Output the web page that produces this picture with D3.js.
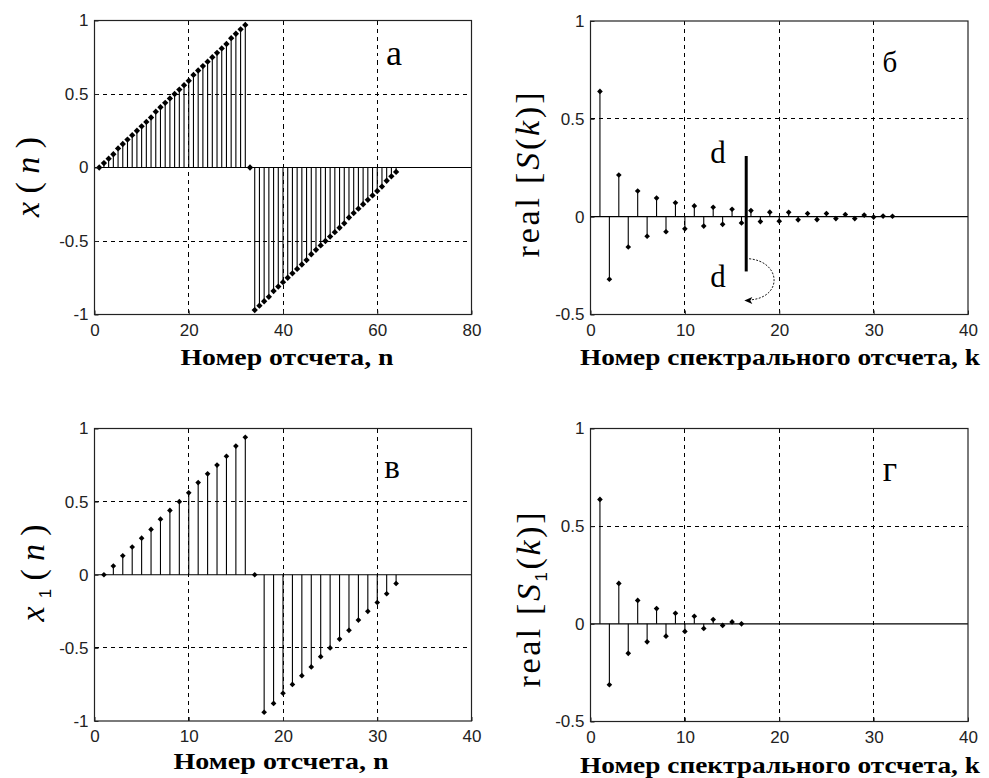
<!DOCTYPE html>
<html><head><meta charset="utf-8">
<script src="https://cdn.jsdelivr.net/npm/d3@7"></script>
<style>body{margin:0;background:#fff}svg{display:block}</style>
</head><body>
<script>
// ---------- data ----------
// (а) x(n), n = 1..64
const xA = [0,0.03,0.06,0.09,0.13,0.16,0.19,0.22,0.25,0.28,0.31,0.34,0.38,0.41,0.44,0.47,
            0.50,0.53,0.56,0.59,0.63,0.66,0.69,0.72,0.75,0.78,0.81,0.84,0.88,0.91,0.94,0.97,
            0,
            -0.97,-0.94,-0.91,-0.88,-0.84,-0.81,-0.78,-0.75,-0.72,-0.69,-0.66,-0.63,-0.59,-0.56,-0.53,
            -0.50,-0.47,-0.44,-0.41,-0.38,-0.34,-0.31,-0.28,-0.25,-0.22,-0.19,-0.16,-0.13,-0.09,-0.06,-0.03];
// (б) real[S(k)], k = 1..32
const sB = [0.64,-0.32,0.213,-0.155,0.131,-0.10,0.095,-0.077,0.071,-0.062,0.055,-0.048,0.048,-0.039,0.038,-0.032,
            0.031,-0.025,0.023,-0.023,0.022,-0.016,0.016,-0.015,0.016,-0.01,0.011,-0.01,0.008,-0.002,0.003,0.002];
// (в) x1(n), n = 1..32
const xC = [0,0.06,0.13,0.19,0.25,0.31,0.38,0.44,0.50,0.56,0.63,0.69,0.75,0.81,0.88,0.94,
            0,-0.94,-0.88,-0.81,-0.75,-0.69,-0.63,-0.56,-0.50,-0.44,-0.38,-0.31,-0.25,-0.19,-0.13,-0.06];
// (г) real[S1(k)], k = 1..16
const sD = [0.637,-0.312,0.207,-0.151,0.12,-0.092,0.078,-0.063,0.054,-0.039,0.039,-0.024,0.022,-0.008,0.01,0];

const xTicks80 = [0,20,40,60,80];
const xTicks40 = [0,10,20,30,40];
const yTicksX  = [-1,-0.5,0,0.5,1];
const yTicksS  = [-0.5,0,0.5,1];
const panelLetters = ["а","б","в","г"];
const xTitleTime = "Номер отсчета, n";
const xTitleSpec = "Номер спектрального отсчета, k";
// annotation in (б): boundary between halves of the spectrum
const boundaryK = 16.5, boundaryTop = 0.31, boundaryBottom = -0.28;

// ---------- drawing ----------
const W = 989, H = 778;
const svg = d3.select("body").append("svg").attr("width", W).attr("height", H);
svg.append("rect").attr("width", W).attr("height", H).attr("fill", "#fff");

const SERIF = "'Liberation Serif','Times New Roman',serif";
const SANS  = "'Liberation Sans',Arial,sans-serif";

function panel(cfg) {
  const g = svg.append("g");
  const x = d3.scaleLinear().domain(cfg.xDomain).range([cfg.left, cfg.right]);
  const y = d3.scaleLinear().domain(cfg.yDomain).range([cfg.bottom, cfg.top]);

  // grid
  g.selectAll(".vg").data(cfg.xTicks.filter(t => t > cfg.xDomain[0] && t < cfg.xDomain[1]))
    .join("line").attr("x1", d => x(d)).attr("x2", d => x(d))
    .attr("y1", cfg.top).attr("y2", cfg.bottom)
    .attr("stroke", "#000").attr("stroke-width", 1).attr("stroke-dasharray", "4,4")
    .attr("shape-rendering", "crispEdges");
  g.selectAll(".hg").data(cfg.yTicks.filter(t => t > cfg.yDomain[0] && t < cfg.yDomain[1] && t !== 0))
    .join("line").attr("y1", d => y(d)).attr("y2", d => y(d))
    .attr("x1", cfg.left).attr("x2", cfg.right)
    .attr("stroke", "#000").attr("stroke-width", 1).attr("stroke-dasharray", "4,4")
    .attr("shape-rendering", "crispEdges");

  // baseline
  g.append("line").attr("x1", cfg.left).attr("x2", cfg.right)
    .attr("y1", y(0)).attr("y2", y(0)).attr("stroke", "#000").attr("stroke-width", 1.2);

  const pts = cfg.values.map((v, i) => ({n: i + 1, v}));
  // stems
  g.selectAll(".stem").data(pts).join("line")
    .attr("x1", d => x(d.n)).attr("x2", d => x(d.n))
    .attr("y1", y(0)).attr("y2", d => y(d.v))
    .attr("stroke", "#000").attr("stroke-width", 1.1);
  // markers
  const sym = d3.symbol(d3.symbolSquare, cfg.markerSize);
  g.selectAll(".mk").data(pts).join("path")
    .attr("d", sym)
    .attr("transform", d => `translate(${x(d.n)},${y(d.v)}) rotate(45)`)
    .attr("fill", "#000");

  // box
  g.append("rect").attr("x", cfg.left).attr("y", cfg.top)
    .attr("width", cfg.right - cfg.left).attr("height", cfg.bottom - cfg.top)
    .attr("fill", "none").attr("stroke", "#222").attr("stroke-width", 1.2);

  // axes
  const fmt = d => String(d);
  const ax = g.append("g").attr("transform", `translate(0,${cfg.bottom})`)
    .call(d3.axisBottom(x).tickValues(cfg.xTicks).tickFormat(fmt).tickSizeInner(-4).tickSizeOuter(0).tickPadding(9));
  const ay = g.append("g").attr("transform", `translate(${cfg.left},0)`)
    .call(d3.axisLeft(y).tickValues(cfg.yTicks).tickFormat(fmt).tickSizeInner(-4).tickSizeOuter(0).tickPadding(6));
  [ax, ay].forEach(a => {
    a.select(".domain").remove();
    a.selectAll("text").attr("font-family", SANS).attr("font-size", 17).attr("fill", "#222");
    a.selectAll("line").attr("stroke", "#222");
  });

  // x title
  g.append("text").attr("x", cfg.xTitlePos[0]).attr("y", cfg.xTitlePos[1])
    .attr("text-anchor", "middle").attr("font-family", SERIF).attr("font-weight", "bold")
    .attr("font-size", 23).attr("textLength", cfg.xTitleLen).attr("lengthAdjust", "spacingAndGlyphs")
    .text(cfg.xTitle);

  // y title (rotated)
  const yt = g.append("text")
    .attr("transform", `translate(${cfg.yTitlePos[0]},${cfg.yTitlePos[1]}) rotate(-90)`)
    .attr("text-anchor", "middle").attr("font-family", SERIF).attr("font-size", cfg.yTitleSize)
    .attr("textLength", cfg.yTitleLen).attr("lengthAdjust", "spacing");
  cfg.yTitleParts.forEach(p => {
    const t = yt.append("tspan").text(p.t);
    if (p.i) t.attr("font-style", "italic");
    if (p.sub) t.attr("dy", 7).attr("font-size", cfg.yTitleSize * 0.5).attr("font-family", SANS);
    if (p.up) t.attr("dy", -7);
  });

  // panel letter
  g.append("text").attr("x", cfg.letterPos[0]).attr("y", cfg.letterPos[1])
    .attr("text-anchor", "middle").attr("font-family", SERIF).attr("font-size", cfg.letterSize)
    .text(cfg.letter);

  return {g, x, y};
}

panel({left: 94.5, right: 471.5, top: 20.5, bottom: 314.5,
  xDomain: [0, 80], yDomain: [-1, 1], xTicks: xTicks80, yTicks: yTicksX, values: xA, markerSize: 20,
  xTitle: xTitleTime, xTitlePos: [287, 365], xTitleLen: 213,
  yTitlePos: [39, 177], yTitleSize: 34, yTitleLen: 80,
  yTitleParts: [{t: "x", i: true}, {t: "("}, {t: "n", i: true}, {t: ")"}],
  letter: panelLetters[0], letterPos: [394, 65], letterSize: 36});

const pB = panel({left: 590.5, right: 968, top: 21, bottom: 314.5,
  xDomain: [0, 40], yDomain: [-0.5, 1], xTicks: xTicks40, yTicks: yTicksS, values: sB, markerSize: 16,
  xTitle: xTitleSpec, xTitlePos: [780, 365], xTitleLen: 400,
  yTitlePos: [539, 175], yTitleSize: 34, yTitleLen: 165,
  yTitleParts: [{t: "real  ["}, {t: "S", i: true}, {t: "("}, {t: "k", i: true}, {t: ")]"}],
  letter: panelLetters[1], letterPos: [890, 72], letterSize: 29});

panel({left: 94.5, right: 471.5, top: 428.5, bottom: 721,
  xDomain: [0, 40], yDomain: [-1, 1], xTicks: xTicks40, yTicks: yTicksX, values: xC, markerSize: 16,
  xTitle: xTitleTime, xTitlePos: [281, 769], xTitleLen: 215,
  yTitlePos: [44, 573], yTitleSize: 34, yTitleLen: 97,
  yTitleParts: [{t: "x", i: true}, {t: "1", sub: true}, {t: "(", up: true}, {t: "n", i: true}, {t: ")"}],
  letter: panelLetters[2], letterPos: [392, 478], letterSize: 33});

panel({left: 590.5, right: 968, top: 428.5, bottom: 721.5,
  xDomain: [0, 40], yDomain: [-0.5, 1], xTicks: xTicks40, yTicks: yTicksS, values: sD, markerSize: 16,
  xTitle: xTitleSpec, xTitlePos: [780, 773], xTitleLen: 400,
  yTitlePos: [540, 600], yTitleSize: 34, yTitleLen: 175,
  yTitleParts: [{t: "real  ["}, {t: "S", i: true}, {t: "1", sub: true}, {t: "(", up: true}, {t: "k", i: true}, {t: ")]"}],
  letter: panelLetters[3], letterPos: [890, 481], letterSize: 35});

// annotation in panel б
{
  const {g, x, y} = pB;
  g.append("line").attr("x1", x(boundaryK)).attr("x2", x(boundaryK))
    .attr("y1", y(boundaryTop)).attr("y2", y(boundaryBottom))
    .attr("stroke", "#000").attr("stroke-width", 3);
  g.append("text").attr("x", x(13.5)).attr("y", y(0.275)).attr("text-anchor", "middle")
    .attr("font-family", SERIF).attr("font-size", 31).text("d");
  g.append("text").attr("x", x(13.5)).attr("y", y(-0.36)).attr("text-anchor", "middle")
    .attr("font-family", SERIF).attr("font-size", 31).text("d");
  const p = d3.path();
  p.moveTo(x(16.8), y(-0.215));
  p.bezierCurveTo(x(20.2), y(-0.23), x(20.4), y(-0.41), x(17.0), y(-0.425));
  g.append("path").attr("d", p.toString()).attr("fill", "none")
    .attr("stroke", "#000").attr("stroke-width", 0.9).attr("stroke-dasharray", "2,1.5");
  const ax0 = x(16.3), ay0 = y(-0.428);
  g.append("path")
    .attr("d", `M${ax0},${ay0} L${ax0 + 8},${ay0 - 3.5} L${ax0 + 6},${ay0} L${ax0 + 8},${ay0 + 3.5} Z`)
    .attr("fill", "#000");
}
</script>
</body></html>
